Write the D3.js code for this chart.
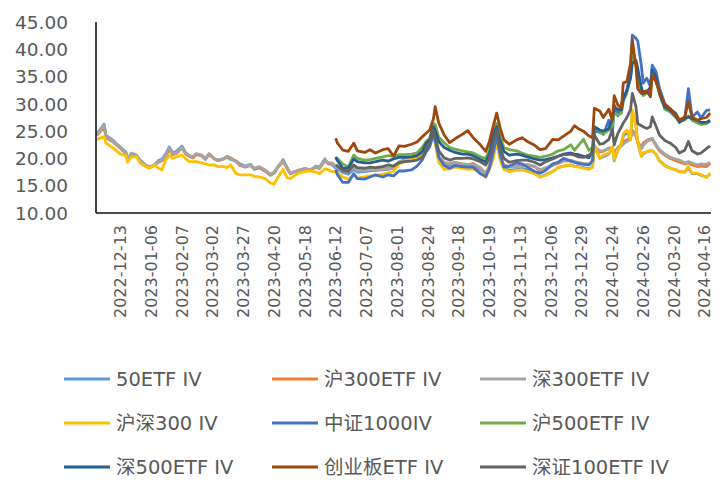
<!DOCTYPE html>
<html>
<head>
<meta charset="utf-8">
<script src="https://cdn.jsdelivr.net/npm/d3@7"></script>
<style>
  body { margin: 0; background: #fff; }
  text { font-family: "DejaVu Sans", "Noto Sans CJK SC", sans-serif; fill: #595959; }
</style>
</head>
<body>
<div id="chart"></div>
<script>
// trading-day index of each sample (0 = first day of the data)
const dayA = [0, 4, 5, 9, 13, 16, 17, 19, 22, 24, 27, 29, 32, 34, 36, 38, 40, 42, 44, 47,
  49, 51, 53, 55, 58, 60, 62, 65, 67, 70, 72, 74, 77, 79, 82, 85, 87, 90, 93, 96,
  98, 100, 103, 105, 107, 110, 112, 115, 118, 121, 123, 126, 128, 130];
const dayB = [132, 133, 136, 139, 142, 144, 148, 151, 154, 158, 161, 164, 167, 170, 174, 177, 180, 182, 184, 186,
  187, 189, 192, 195, 198, 202, 205, 208, 212, 215, 217, 219, 221, 223, 225, 228, 232, 235, 238, 242,
  245, 248, 252, 255, 258, 262, 264, 266, 269, 272, 274, 275, 278, 280, 283, 285, 286, 288, 290, 291,
  293, 295, 296, 298, 299, 301, 302, 304, 306, 307, 309, 311, 314, 317, 320, 322, 325, 327, 329, 332,
  334, 337, 339];
const nDays = 340;

// x-axis labels, shown every 17 trading days from day 13
const tickDates = ["2022-12-13", "2023-01-06", "2023-02-07", "2023-03-02", "2023-03-27", "2023-04-20",
  "2023-05-18", "2023-06-12", "2023-07-07", "2023-08-01", "2023-08-24", "2023-09-18", "2023-10-19",
  "2023-11-13", "2023-12-06", "2023-12-29", "2024-01-24", "2024-02-26", "2024-03-20", "2024-04-16"];
const yTicks = [10, 15, 20, 25, 30, 35, 40, 45];

// series on dayA + dayB
const etf50 = [24.5, 26.3, 24.2, 23.3, 22.0, 21.2, 19.8, 20.9, 20.4, 19.6, 18.6, 18.3, 18.9, 19.6, 19.9,
  20.8, 22.1, 21.0, 21.3, 22.3, 21.1, 20.5, 20.2, 20.8, 20.5, 19.8, 20.8, 19.9, 19.6, 19.9,
  20.2, 19.8, 19.5, 19.0, 18.6, 18.9, 18.0, 18.3, 17.7, 16.9, 17.3, 18.4, 19.8, 18.3, 17.2,
  17.6, 17.8, 18.1, 17.8, 18.6, 18.4, 19.9, 19.0, 18.9,
  18.2, 18.0, 17.4, 17.1, 18.0, 17.5, 17.6, 17.7, 17.8, 17.9, 18.0, 18.2, 19.2, 19.8, 20.1,
  20.3, 20.5, 21.8, 23.4, 25.2, 23.1, 19.7, 18.8, 18.8, 19.0, 18.8, 18.6, 18.8, 17.9, 16.7,
  18.5, 20.2, 23.7, 20.0, 18.3, 17.8, 18.0, 18.2, 17.9, 17.5, 16.6, 17.0, 17.6, 18.3, 18.6,
  18.8, 18.6, 18.5, 18.3, 18.1, 18.4, 22.3, 20.0, 20.3, 20.8, 22.0, 19.6, 21.5, 22.8, 24.0,
  25.0, 23.4, 28.5, 26.0, 22.8, 20.4, 20.8, 21.2, 21.4, 21.4, 20.8, 19.6, 18.7, 18.2, 17.9,
  17.6, 17.5, 18.3, 17.2, 17.2, 16.9, 16.6, 17.1];
const hu300 = [24.2, 25.8, 23.8, 23.0, 21.9, 20.8, 19.6, 20.8, 20.4, 19.5, 18.7, 18.4, 18.7, 19.3, 19.6,
  20.4, 21.6, 20.7, 20.9, 21.9, 20.8, 20.4, 20.1, 20.7, 20.5, 19.9, 20.7, 19.9, 19.6, 19.9,
  20.3, 20.1, 19.5, 18.7, 18.4, 18.7, 18.1, 18.3, 17.7, 17.0, 17.4, 18.4, 19.4, 18.3, 17.2,
  17.6, 17.8, 18.1, 17.9, 18.4, 18.1, 19.5, 19.1, 19.1,
  18.6, 18.4, 17.9, 17.6, 18.4, 17.9, 17.9, 18.0, 17.8, 18.1, 18.2, 18.3, 19.3, 19.7, 20.0,
  20.2, 20.6, 21.7, 23.3, 25.1, 23.3, 20.2, 19.2, 19.1, 19.3, 19.0, 18.8, 19.1, 18.2, 17.3,
  18.7, 20.5, 23.8, 20.3, 18.8, 18.5, 18.6, 18.8, 18.8, 18.5, 17.7, 18.2, 18.7, 19.1, 19.5,
  19.6, 19.3, 19.3, 19.0, 18.9, 19.2, 22.3, 21.2, 21.3, 21.9, 22.0, 20.9, 22.0, 22.6, 23.0,
  23.4, 23.8, 25.2, 24.2, 23.0, 22.0, 22.8, 23.3, 23.6, 23.5, 22.4, 21.4, 20.6, 20.0, 19.6,
  19.3, 19.0, 19.2, 18.8, 18.5, 18.6, 18.5, 19.1];
const shen300 = [24.3, 26.1, 24.0, 23.1, 22.1, 21.0, 19.7, 21.0, 20.6, 19.7, 18.8, 18.5, 18.8, 19.4, 19.7,
  20.6, 21.9, 20.9, 21.0, 22.1, 21.0, 20.6, 20.3, 20.9, 20.6, 20.0, 20.9, 20.0, 19.7, 20.0,
  20.4, 20.0, 19.4, 18.8, 18.5, 18.8, 18.2, 18.5, 17.9, 17.1, 17.5, 18.5, 19.6, 18.5, 17.3,
  17.7, 17.9, 18.2, 17.9, 18.5, 18.2, 19.7, 19.2, 19.2,
  18.5, 18.3, 17.8, 17.5, 18.3, 17.8, 17.8, 17.9, 17.9, 18.0, 18.1, 18.2, 19.4, 19.8, 20.0,
  20.2, 20.5, 21.6, 23.2, 25.0, 23.2, 20.3, 19.3, 19.0, 19.2, 19.0, 18.9, 19.0, 18.3, 17.2,
  18.6, 20.4, 23.6, 20.2, 18.7, 18.4, 18.5, 18.6, 18.9, 18.6, 17.9, 18.3, 18.8, 19.2, 19.6,
  19.7, 19.4, 19.2, 19.1, 19.0, 19.3, 22.1, 21.4, 21.4, 21.8, 21.9, 20.8, 21.8, 22.3, 22.6,
  23.1, 23.6, 24.9, 24.0, 23.1, 21.8, 22.3, 23.1, 23.4, 23.7, 22.6, 21.6, 20.8, 20.2, 19.9,
  19.7, 19.2, 19.4, 19.2, 18.8, 19.0, 18.9, 19.3];
const hs300 = [23.5, 24.0, 22.8, 21.9, 20.8, 20.5, 19.3, 20.3, 20.3, 19.1, 18.5, 18.2, 18.8, 18.2, 17.9,
  19.7, 20.6, 20.0, 20.3, 20.6, 20.0, 19.4, 19.4, 19.4, 19.2, 19.0, 18.8, 18.8, 18.5, 18.5,
  18.3, 18.8, 17.2, 17.0, 17.0, 17.0, 16.7, 16.6, 16.3, 15.5, 15.3, 16.5, 18.0, 16.5, 16.3,
  17.0, 17.4, 17.6, 17.7, 17.5, 17.2, 18.1, 17.9, 17.6,
  17.6, 17.3, 16.6, 16.2, 17.0, 16.4, 16.6, 16.8, 16.9, 17.1, 17.3, 17.6, 19.0, 19.5, 19.9,
  20.1, 20.3, 21.4, 23.0, 24.6, 22.8, 19.3, 18.0, 18.1, 18.4, 18.2, 18.0, 18.1, 17.4, 16.5,
  18.0, 19.8, 23.0, 19.6, 18.0, 17.6, 17.8, 17.9, 17.6, 17.2, 16.6, 16.9, 17.6, 18.3, 18.6,
  18.8, 18.5, 18.4, 18.2, 18.0, 18.4, 22.5, 20.0, 20.6, 21.0, 22.1, 19.8, 21.5, 22.8, 24.5,
  25.2, 23.4, 28.9, 26.0, 23.0, 20.4, 21.0, 21.2, 21.5, 21.4, 20.8, 19.5, 18.6, 18.2, 17.9,
  17.6, 17.6, 18.5, 17.3, 17.3, 17.0, 16.5, 17.3];

// series on dayB only
const zz1000 = [17.9, 17.0, 15.6, 15.6, 17.2, 16.3, 16.2, 16.6, 17.0, 16.6, 17.0, 16.8, 17.7, 17.7, 17.9,
  18.6, 19.8, 21.2, 22.1, 24.3, 23.4, 20.2, 18.7, 18.2, 18.7, 18.5, 18.4, 18.4, 17.2, 16.7,
  18.2, 20.9, 24.0, 20.6, 18.4, 18.6, 19.2, 19.0, 18.4, 17.6, 17.3, 17.8, 19.0, 19.3, 20.0,
  19.5, 19.3, 19.1, 18.9, 18.8, 19.6, 25.0, 24.8, 24.4, 27.0, 24.6, 29.8, 27.8, 30.0, 31.0,
  32.5, 36.2, 42.6, 42.0, 41.5, 37.0, 33.8, 34.7, 33.2, 37.1, 36.0, 32.9, 30.0, 29.0, 28.3,
  27.0, 27.3, 32.8, 27.6, 28.5, 27.4, 28.8, 28.9];
const hu500 = [19.7, 20.0, 19.0, 18.4, 20.6, 20.0, 19.7, 19.8, 20.0, 20.3, 20.5, 20.4, 20.7, 20.7, 20.8,
  21.0, 22.1, 23.1, 23.7, 26.4, 26.2, 23.9, 22.9, 22.0, 21.7, 21.4, 21.2, 21.0, 20.3, 20.0,
  21.5, 24.6, 26.4, 23.9, 22.0, 21.6, 21.4, 21.0, 20.6, 20.4, 20.2, 20.4, 20.8, 21.4, 21.6,
  22.5, 21.5, 22.3, 23.5, 21.5, 22.0, 25.5, 25.0, 24.5, 25.2, 26.0, 28.3, 28.0, 28.3, 30.5,
  32.0, 34.8, 38.5, 37.5, 34.5, 32.5, 31.5, 32.0, 31.8, 35.5, 34.5, 31.8, 29.0, 28.5, 27.5,
  26.8, 27.0, 27.8, 27.0, 26.5, 26.2, 26.4, 26.8];
const shen500 = [20.3, 19.6, 18.2, 18.2, 19.9, 19.4, 19.2, 19.2, 19.4, 19.7, 19.5, 19.9, 20.2, 20.2, 20.3,
  20.5, 21.3, 22.8, 23.4, 25.8, 25.2, 23.1, 22.0, 21.5, 21.1, 20.8, 20.8, 20.5, 19.8, 19.4,
  20.8, 24.0, 25.8, 23.1, 21.3, 20.6, 20.8, 20.6, 20.3, 19.9, 19.7, 19.8, 20.1, 20.4, 20.8,
  21.0, 20.8, 20.7, 20.4, 20.1, 21.5, 25.8, 25.2, 25.0, 25.5, 27.3, 29.5, 29.0, 28.9, 30.8,
  32.5, 34.7, 37.4, 38.0, 36.5, 33.0, 31.9, 32.2, 33.0, 36.2, 35.0, 31.9, 29.4, 28.8, 27.8,
  26.6, 27.3, 27.6, 27.3, 27.0, 26.6, 26.6, 27.0];
const cyb = [23.7, 22.8, 21.5, 21.3, 22.8, 21.4, 21.1, 21.6, 21.0, 21.6, 21.8, 20.4, 22.3, 22.2, 22.6,
  23.0, 24.0, 24.6, 25.2, 27.2, 29.5, 26.5, 24.3, 22.9, 23.6, 24.4, 25.1, 23.8, 22.5, 21.3,
  23.1, 25.8, 28.3, 25.5, 23.4, 22.6, 23.4, 23.8, 23.1, 22.4, 21.6, 21.8, 23.5, 23.4, 24.1,
  25.0, 26.0, 25.5, 25.0, 24.1, 23.8, 29.2, 28.7, 27.5, 29.0, 27.0, 31.5, 29.8, 29.2, 33.8,
  34.1, 37.4, 41.7, 36.8, 32.8, 31.9, 32.2, 32.4, 31.3, 35.3, 34.1, 32.2, 29.8, 29.1, 28.0,
  27.0, 27.6, 30.4, 27.6, 27.0, 27.3, 27.5, 28.3];
const sz100 = [18.8, 18.6, 17.8, 17.6, 18.8, 18.3, 18.2, 18.4, 18.3, 18.5, 18.8, 18.6, 19.2, 19.4, 19.5,
  19.7, 20.2, 21.5, 22.8, 25.2, 24.0, 21.4, 20.1, 19.7, 20.0, 20.0, 20.1, 19.9, 19.4, 18.8,
  20.0, 22.8, 25.2, 21.8, 20.0, 19.3, 19.6, 19.7, 19.7, 19.3, 18.8, 19.4, 19.9, 20.4, 20.7,
  20.8, 20.6, 20.3, 20.2, 20.6, 21.0, 24.3, 22.6, 22.7, 23.5, 25.2, 22.5, 24.6, 25.8, 26.5,
  27.5, 28.9, 31.9, 29.5, 26.4, 26.0, 25.8, 25.5, 25.8, 27.6, 26.0, 24.3, 23.3, 22.8, 22.0,
  21.0, 21.5, 23.1, 21.4, 20.8, 21.0, 21.8, 22.3];

const names = ["50ETF IV", "沪300ETF IV", "深300ETF IV", "沪深300 IV", "中证1000IV",
  "沪500ETF IV", "深500ETF IV", "创业板ETF IV", "深证100ETF IV"];
const colors = ["#5b9bd5", "#ed7d31", "#a5a5a5", "#ffc000", "#4472c4",
  "#70ad47", "#255e91", "#9e480e", "#636363"];

const dayAll = dayA.concat(dayB);
const series = [
  {vals: etf50, days: dayAll}, {vals: hu300, days: dayAll}, {vals: shen300, days: dayAll},
  {vals: hs300, days: dayAll}, {vals: zz1000, days: dayB}, {vals: hu500, days: dayB},
  {vals: shen500, days: dayB}, {vals: cyb, days: dayB}, {vals: sz100, days: dayB}
];

const width = 720, height = 480;
const plotL = 96, plotR = 711, plotT = 22, plotB = 213;

const svg = d3.select("#chart").append("svg")
  .attr("width", width).attr("height", height);

const x = d3.scaleLinear().domain([-0.5, nDays - 0.5]).range([plotL, plotR]);
const y = d3.scaleLinear().domain([10, 45]).range([plotB, plotT]);

// y labels
svg.selectAll(".ylab").data(yTicks).enter().append("text")
  .attr("class", "ylab")
  .attr("x", 68).attr("y", d => y(d))
  .attr("dy", "0.36em")
  .attr("text-anchor", "end")
  .attr("font-size", 18.5)
  .text(d => d.toFixed(2));

// x labels, rotated
svg.selectAll(".xlab").data(tickDates).enter().append("text")
  .attr("class", "xlab")
  .attr("transform", (d, i) => `translate(${x(13 + i * 17)},${plotB + 12}) rotate(-90)`)
  .attr("dy", "0.36em")
  .attr("text-anchor", "end")
  .attr("font-size", 16)
  .text(d => d);

// lines
const line = d3.line().x(d => x(d[0])).y(d => y(d[1]));
series.forEach((s, k) => {
  svg.append("path")
    .datum(s.days.map((d, i) => [d, s.vals[i]]))
    .attr("fill", "none")
    .attr("stroke", colors[k])
    .attr("stroke-width", 2.8)
    .attr("stroke-linejoin", "round")
    .attr("d", line);
});

// axis lines
svg.append("line").attr("x1", plotL).attr("x2", plotL).attr("y1", plotT).attr("y2", plotB)
  .attr("stroke", "#111").attr("stroke-width", 1.6);
svg.append("line").attr("x1", plotL).attr("x2", plotR).attr("y1", plotB).attr("y2", plotB)
  .attr("stroke", "#111").attr("stroke-width", 1.6);

// legend, 3 columns
const leg = svg.selectAll(".leg").data(names).enter().append("g")
  .attr("class", "leg")
  .attr("transform", (d, i) => `translate(${64 + (i % 3) * 208},${379 + Math.floor(i / 3) * 44})`);
leg.append("line").attr("x1", 0).attr("x2", 46)
  .attr("stroke", (d, i) => colors[i]).attr("stroke-width", 2.8);
leg.append("text").attr("x", 52).attr("dy", "0.36em")
  .attr("font-size", 19.5)
  .text(d => d);
</script>
</body>
</html>
